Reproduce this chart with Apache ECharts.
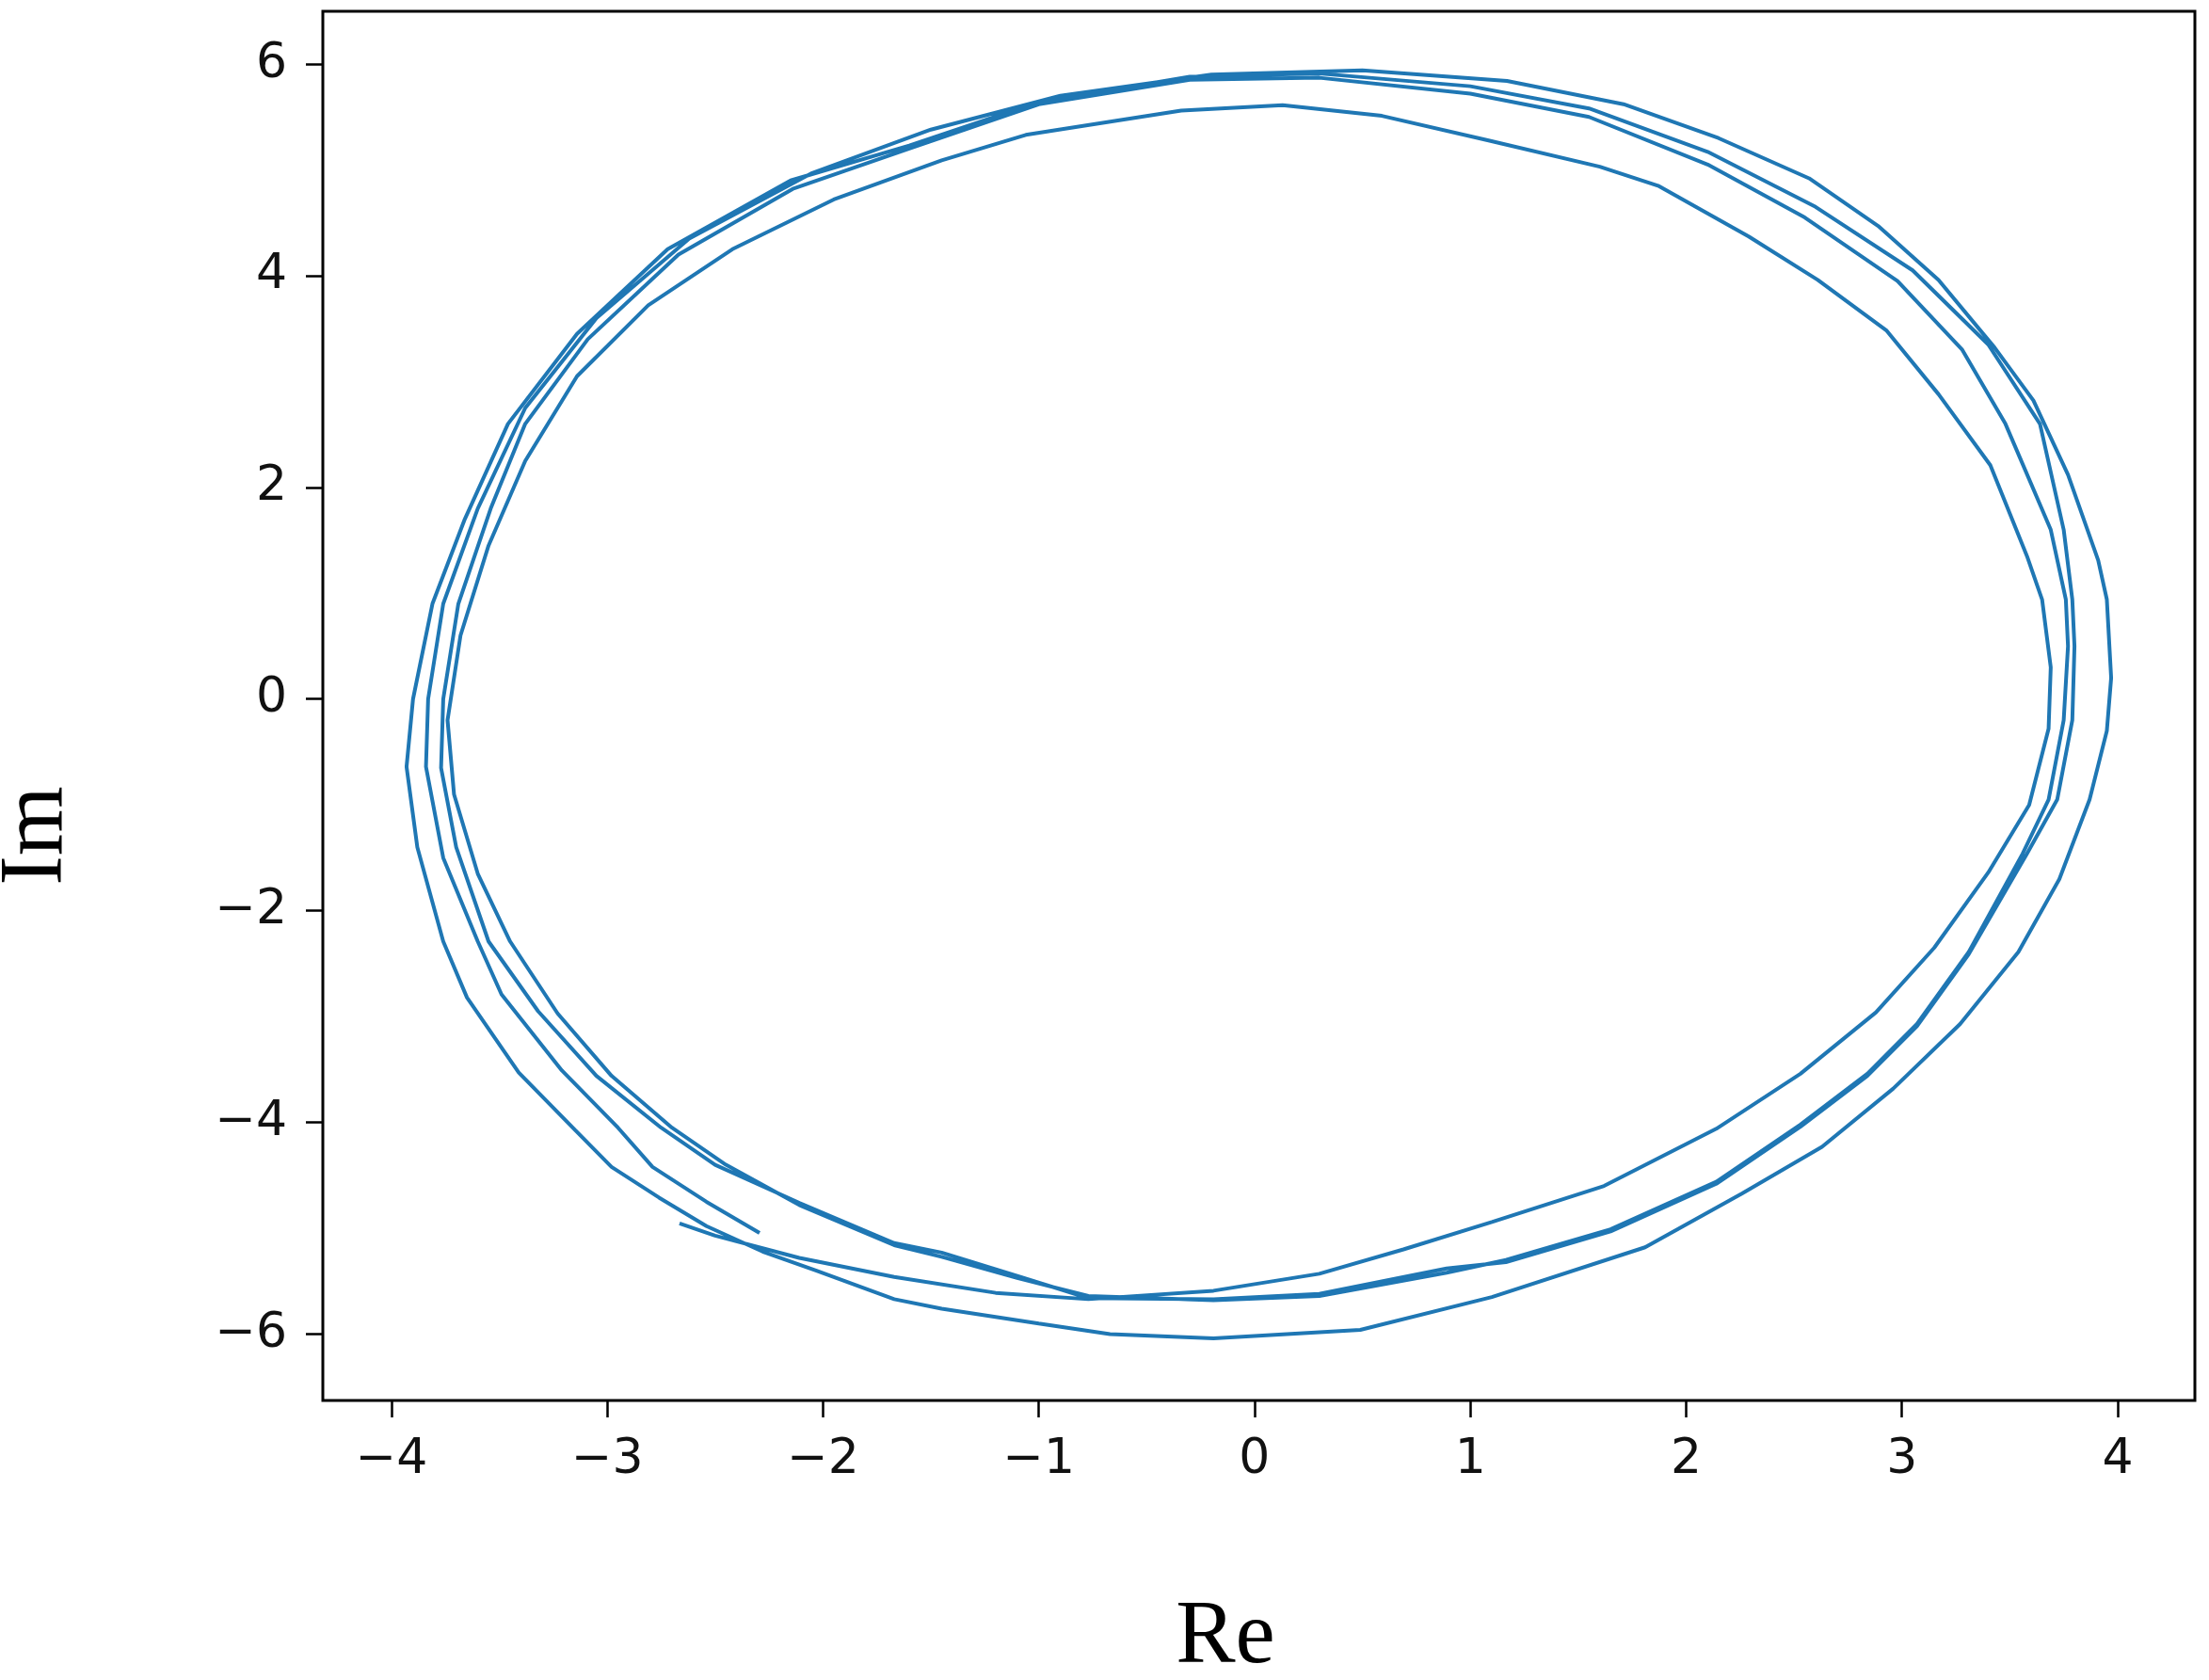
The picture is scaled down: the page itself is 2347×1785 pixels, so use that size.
<!DOCTYPE html>
<html><head><meta charset="utf-8">
<script src="https://cdn.jsdelivr.net/npm/echarts@6/dist/echarts.min.js"></script>
<style>html,body{margin:0;padding:0;background:#fff}#c{width:2347px;height:1785px}</style>
</head><body><div id="c"></div>
<script>
const xTicks = [-4, -3, -2, -1, 0, 1, 2, 3, 4];
const yTicks = [-6, -4, -2, 0, 2, 4, 6];
const xTitle = 'Re';
const yTitle = 'Im';

// Trajectory, counter-clockwise, turn by turn
const loop1 = [[-2.665,-4.955],[-2.50,-5.07],[-2.11,-5.28],[-1.67,-5.46],[-1.20,-5.61],[-0.77,-5.67],[-0.19,-5.59],[0.30,-5.43],[0.69,-5.20],[1.10,-4.94],[1.62,-4.60],[2.14,-4.06],[2.53,-3.54],[2.88,-2.96],[3.15,-2.35],[3.40,-1.64],[3.59,-1.00],[3.68,-0.28],[3.69,0.30],[3.65,0.94],[3.58,1.35],[3.41,2.21],[3.17,2.88],[2.93,3.48],[2.61,3.96],[2.29,4.37],[1.87,4.85],[1.60,5.03],[1.08,5.28],[0.59,5.51],[0.13,5.61],[-0.34,5.56],[-1.06,5.33],[-1.45,5.09],[-1.95,4.72],[-2.42,4.25],[-2.81,3.72],[-3.14,3.05],[-3.38,2.25],[-3.55,1.45],[-3.68,0.60],[-3.74,-0.20],[-3.71,-0.90],[-3.60,-1.65],[-3.45,-2.29],[-3.23,-2.97],[-2.98,-3.56],[-2.70,-4.05],[-2.45,-4.40]];
const loop2 = [[-2.11,-4.78],[-1.67,-5.16],[-1.45,-5.27],[-1.10,-5.47],[-0.77,-5.64],[-0.19,-5.68],[0.30,-5.64],[0.89,-5.42],[1.165,-5.30],[1.65,-5.01],[2.14,-4.56],[2.53,-4.02],[2.84,-3.54],[3.07,-3.07],[3.31,-2.39],[3.56,-1.46],[3.68,-0.95],[3.75,-0.20],[3.77,0.50],[3.76,0.94],[3.69,1.60],[3.48,2.60],[3.28,3.30],[2.98,3.95],[2.55,4.55],[2.10,5.05],[1.55,5.50],[1.00,5.72],[0.30,5.87],[-0.30,5.85],[-1.00,5.62],[-1.60,5.20],[-2.14,4.82],[-2.67,4.20],[-3.09,3.40],[-3.38,2.60],[-3.54,1.80],[-3.69,0.90],[-3.76,0.00],[-3.77,-0.65],[-3.70,-1.40],[-3.55,-2.29],[-3.32,-2.95],[-3.05,-3.56],[-2.75,-4.05],[-2.50,-4.40]];
const loop3 = [[-2.11,-4.76],[-1.67,-5.14],[-1.45,-5.23],[-1.10,-5.45],[-0.77,-5.66],[-0.19,-5.67],[0.30,-5.62],[0.89,-5.38],[1.165,-5.32],[1.65,-5.03],[2.14,-4.58],[2.53,-4.04],[2.84,-3.56],[3.07,-3.09],[3.31,-2.41],[3.58,-1.46],[3.72,-0.95],[3.79,-0.20],[3.80,0.50],[3.79,0.94],[3.75,1.60],[3.64,2.60],[3.40,3.35],[3.05,4.05],[2.60,4.65],[2.10,5.17],[1.55,5.58],[1.00,5.79],[0.30,5.91],[-0.30,5.88],[-1.00,5.64],[-1.60,5.23],[-2.15,4.90],[-2.72,4.25],[-3.14,3.45],[-3.46,2.60],[-3.66,1.70],[-3.81,0.90],[-3.90,0.00],[-3.93,-0.64],[-3.88,-1.40],[-3.76,-2.29],[-3.65,-2.82],[-3.41,-3.53],[-3.15,-4.07],[-2.98,-4.42],[-2.76,-4.71],[-2.54,-4.98],[-2.28,-5.22],[-2.03,-5.40],[-1.67,-5.67]];
const loop4 = [[-1.45,-5.76],[-1.00,-5.90],[-0.67,-6.00],[-0.19,-6.04],[0.49,-5.96],[1.10,-5.65],[1.81,-5.18],[2.26,-4.67],[2.63,-4.23],[2.96,-3.68],[3.27,-3.07],[3.54,-2.39],[3.73,-1.70],[3.87,-0.95],[3.95,-0.30],[3.97,0.20],[3.95,0.94],[3.91,1.31],[3.77,2.12],[3.61,2.82],[3.43,3.32],[3.17,3.96],[2.89,4.47],[2.57,4.92],[2.15,5.30],[1.71,5.62],[1.17,5.84],[0.50,5.94],[-0.20,5.90],[-0.90,5.70],[-1.50,5.38],[-2.05,4.97],[-2.62,4.35],[-3.05,3.60],[-3.38,2.75],[-3.60,1.80],[-3.76,0.90],[-3.83,0.00],[-3.84,-0.64],[-3.76,-1.50],[-3.60,-2.29],[-3.49,-2.79],[-3.21,-3.51],[-2.95,-4.05]];
const tail = [[-2.79,-4.42],[-2.54,-4.75],[-2.294,-5.044]];

const path = [].concat(loop1, loop2, loop3, loop4, tail);
const minus = v => String(v).replace('-', '\u2212');

const chart = echarts.init(document.getElementById('c'), null, {renderer: 'canvas'});
chart.setOption({
  animation: false,
  backgroundColor: '#ffffff',
  grid: {left: 343, top: 12, width: 1989, height: 1476, show: true, borderColor: '#000', borderWidth: 3,
         backgroundColor: 'transparent', containLabel: false, outerBoundsMode: 'none'},
  xAxis: {
    type: 'value', min: -4.318, max: 4.358, position: 'bottom',
    axisLine: {show: false, onZero: false}, splitLine: {show: false},
    axisTick: {show: true, inside: false, length: 18, customValues: xTicks, lineStyle: {color: '#000', width: 2.5}},
    axisLabel: {customValues: xTicks, formatter: minus, fontFamily: 'DejaVu Sans', fontSize: 52, color: '#111', margin: 37}
  },
  yAxis: {
    type: 'value', min: -6.627, max: 6.498, position: 'left',
    axisLine: {show: false, onZero: false}, splitLine: {show: false},
    axisTick: {show: true, inside: false, length: 18, customValues: yTicks, lineStyle: {color: '#000', width: 2.5}},
    axisLabel: {customValues: yTicks, formatter: minus, fontFamily: 'DejaVu Sans', fontSize: 52, color: '#111', margin: 38}
  },
  graphic: [
    {type: 'text', x: 1302, y: 1741, style: {text: xTitle, font: '95px "Liberation Serif"', fill: '#000', align: 'center', verticalAlign: 'middle'}},
    {type: 'text', x: 40, y: 888, rotation: Math.PI / 2, style: {text: yTitle, font: '95px "Liberation Serif"', fill: '#000', align: 'center', verticalAlign: 'middle'}}
  ],
  series: [{
    type: 'line', data: path, showSymbol: false, smooth: false,
    lineStyle: {color: '#1f77b4', width: 4}, clip: true
  }]
});
</script></body></html>
